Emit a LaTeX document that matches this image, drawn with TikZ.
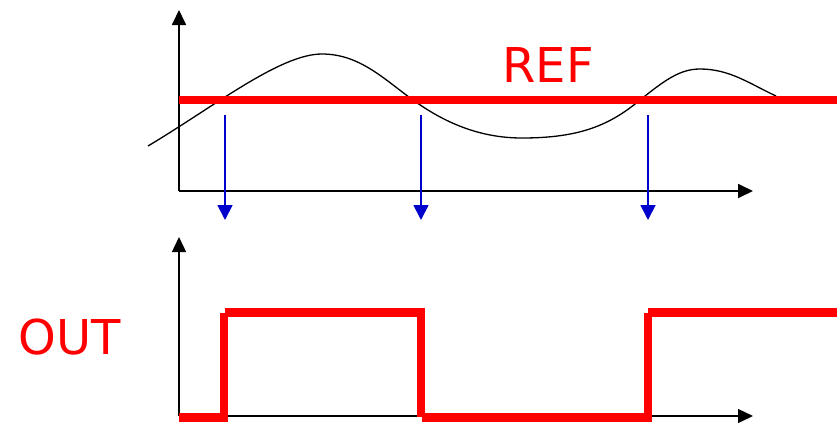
\documentclass[tikz,border=0pt]{standalone}
\usepackage{fontspec}
\setmainfont{DejaVu Sans}
\usetikzlibrary{arrows.meta}
\definecolor{sigred}{RGB}{255,0,0}
\definecolor{markblue}{RGB}{0,0,204}
\begin{document}
\begin{tikzpicture}[x=1pt,y=-1pt,
  axisline/.style={black,line width=1.8pt,-{Triangle[length=15pt,width=14pt]}},
  axisthin/.style={black,line width=1.4pt,-{Triangle[length=15pt,width=14pt]}},
  refline/.style={sigred,line width=8.5pt},
  outline/.style={sigred,line width=8.5pt,line cap=butt},
  marker/.style={markblue,line width=1.8pt,-{Triangle[length=15pt,width=15pt]}},
  wave/.style={black,line width=1.3pt},
  lbl/.style={sigred,inner sep=0pt,anchor=base,font=\fontsize{48}{48}\selectfont}]
\useasboundingbox (0,0) rectangle (840,424);

% upper plot: axes
\coordinate (o1) at (179,191);
\coordinate (y1) at (179,10);
\coordinate (x1) at (753,191);
\draw[axisline] (o1) -- (y1);
\draw[axisline] (o1) -- (x1);

% input waveform
\draw[wave] (148,146) .. controls (215,106) and (280,54) .. (322,54)
  .. controls (360,54) and (385,80) .. (413,100)
  .. controls (445,123) and (480,138) .. (522,138)
  .. controls (580,138) and (610,125) .. (640,100)
  .. controls (665,80) and (680,69) .. (700,69)
  .. controls (730,69) and (750,84) .. (776,96);

% reference level
\coordinate (r0) at (179,100);
\coordinate (r1) at (837,100);
\draw[refline] (r0) -- (r1);
\node[lbl] (ref) at (548,82) {REF};

% crossing markers
\coordinate (c1) at (225,115);  \coordinate (d1) at (225,220);
\coordinate (c2) at (421,115);  \coordinate (d2) at (421,220);
\coordinate (c3) at (648,115);  \coordinate (d3) at (648,220);
\draw[marker] (c1) -- (d1);
\draw[marker] (c2) -- (d2);
\draw[marker] (c3) -- (d3);

% lower plot: axes
\coordinate (o2) at (179,416);
\coordinate (y2) at (179,237);
\coordinate (x2) at (753,416);
\draw[axisthin] (o2) -- (y2);
\draw[axisthin] (o2) -- (x2);

% comparator output
\node[lbl] (out) at (69.5,354) {OUT};
\draw[outline] (179,417.5) -- (226,417.5);
\draw[outline] (224,421.5) -- (224,313);
\draw[outline] (225,312.5) -- (422,312.5);
\draw[outline] (421,308) -- (421,417);
\draw[outline] (422,417.5) -- (648,417.5);
\draw[outline] (648,421.5) -- (648,313);
\draw[outline] (648,312.5) -- (837,312.5);
\end{tikzpicture}
\end{document}
